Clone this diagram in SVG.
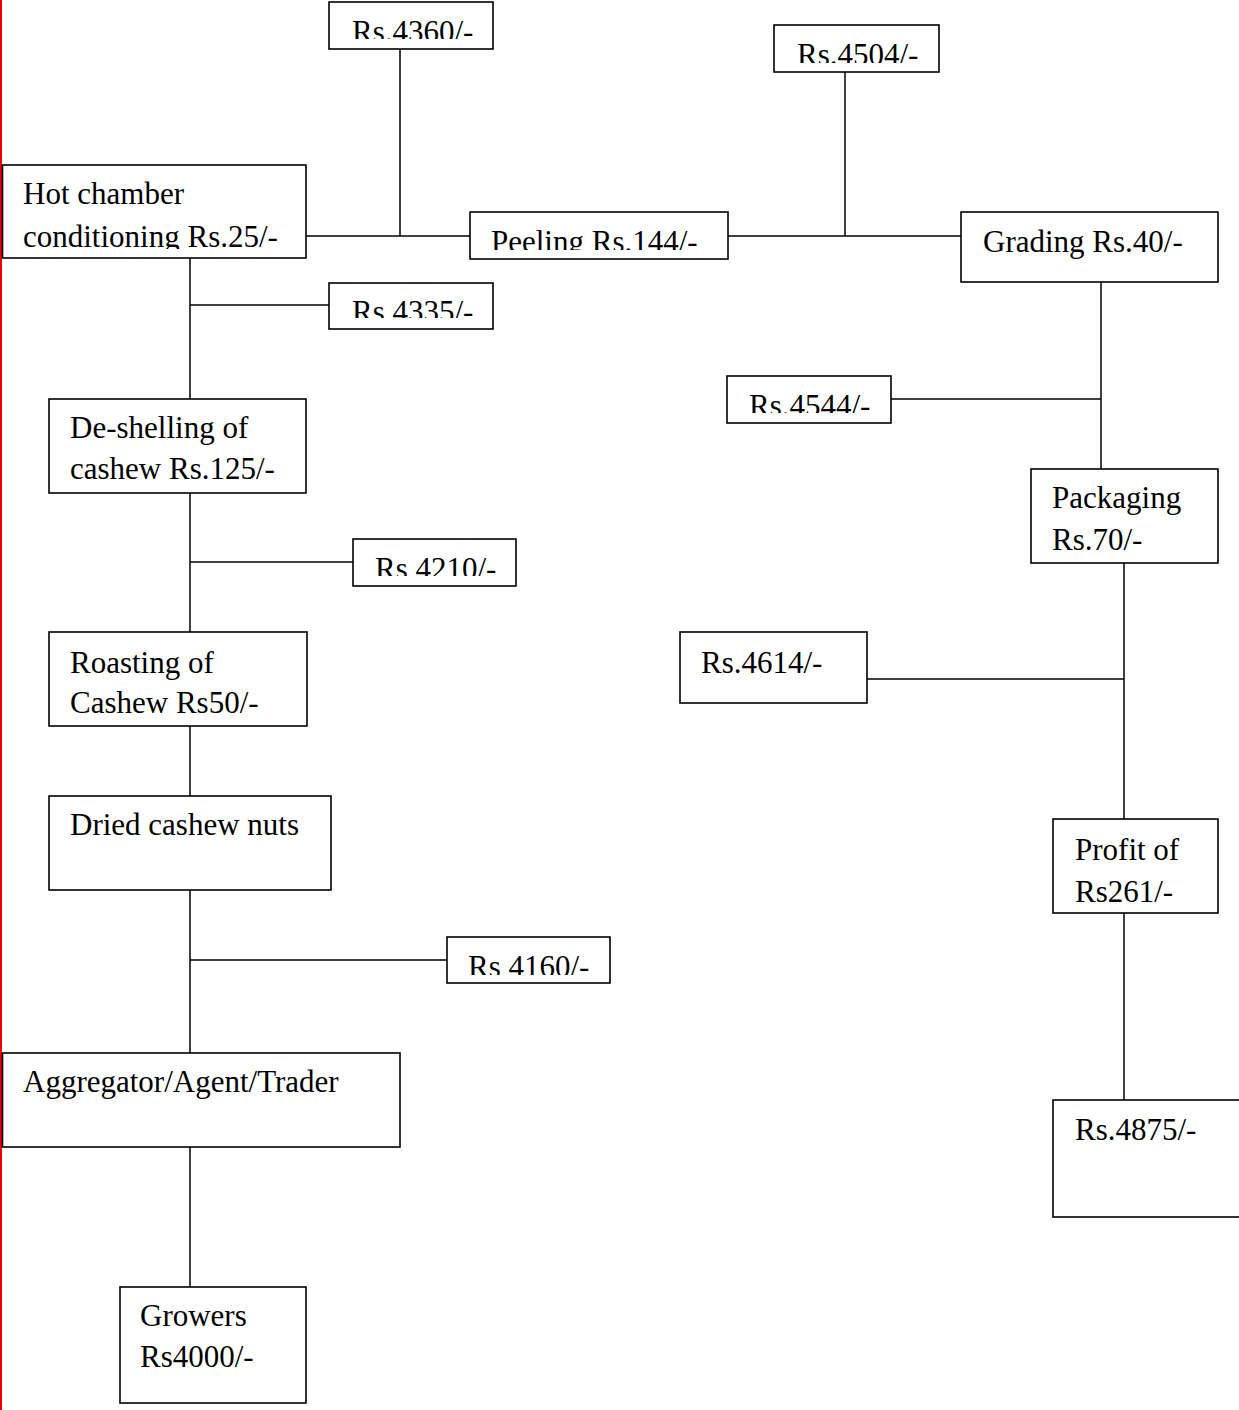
<svg xmlns="http://www.w3.org/2000/svg" width="1239" height="1410" viewBox="0 0 1239 1410">
  <style>
    .box { fill: #ffffff; stroke: #000000; stroke-width: 1.6; }
    .link { fill: none; stroke: #000000; stroke-width: 1.5; }
    .label { font-family: "Liberation Serif", "Times New Roman", serif; font-size: 31px; fill: #000000; }
  </style>
  <defs>
    <!-- text in the short value boxes is cut off just above the bottom border -->
    <clipPath id="clip4360"><rect x="329" y="2" width="164" height="37"/></clipPath>
    <clipPath id="clip4504"><rect x="774" y="25" width="165" height="38"/></clipPath>
    <clipPath id="clipPeel"><rect x="470" y="212" width="258" height="38"/></clipPath>
    <clipPath id="clip4335"><rect x="329" y="283" width="164" height="35"/></clipPath>
    <clipPath id="clip4544"><rect x="727" y="376" width="164" height="37"/></clipPath>
    <clipPath id="clip4210"><rect x="353" y="539" width="163" height="37"/></clipPath>
    <clipPath id="clip4160"><rect x="447" y="937" width="163" height="38"/></clipPath>
    <clipPath id="clipHot"><rect x="2" y="165" width="304" height="84"/></clipPath>
  </defs>

  <rect width="1239" height="1410" fill="#ffffff"/>
  <!-- page margin rule -->
  <rect x="0" y="0" width="2" height="1410" fill="#e8000b"/>

  <g id="connectors">
    <path class="link" d="M306 236 H470 M400 49 V236"/>
    <path class="link" d="M728 236 H961 M845 72 V236"/>
    <path class="link" d="M1101 282 V469 M891 399 H1101"/>
    <path class="link" d="M1124 563 V819 M867 679 H1124"/>
    <path class="link" d="M1124 913 V1100"/>
    <path class="link" d="M190 258 V399 M190 305 H329"/>
    <path class="link" d="M190 493 V632 M190 562 H353"/>
    <path class="link" d="M190 726 V796"/>
    <path class="link" d="M190 890 V1053 M190 960 H447"/>
    <path class="link" d="M190 1147 V1287"/>
  </g>

  <g id="node-rs4360">
    <rect class="box" x="329" y="2" width="164" height="47"/>
    <text class="label" x="352" y="42" clip-path="url(#clip4360)">Rs.4360/-</text>
  </g>
  <g id="node-rs4504">
    <rect class="box" x="774" y="25" width="165" height="47"/>
    <text class="label" x="797" y="65" clip-path="url(#clip4504)">Rs.4504/-</text>
  </g>
  <g id="node-hot-chamber">
    <rect class="box" x="2.5" y="165" width="303.5" height="93"/>
    <g clip-path="url(#clipHot)">
      <text class="label" x="23" y="204">Hot chamber</text>
      <text class="label" x="23" y="247">conditioning Rs.25/-</text>
    </g>
  </g>
  <g id="node-peeling">
    <rect class="box" x="470" y="212" width="258" height="47"/>
    <text class="label" x="491" y="252" clip-path="url(#clipPeel)">Peeling Rs.144/-</text>
  </g>
  <g id="node-grading">
    <rect class="box" x="961" y="212" width="257" height="70"/>
    <text class="label" x="983" y="252">Grading Rs.40/-</text>
  </g>
  <g id="node-rs4335">
    <rect class="box" x="329" y="283" width="164" height="46"/>
    <text class="label" x="352" y="322" clip-path="url(#clip4335)">Rs.4335/-</text>
  </g>
  <g id="node-rs4544">
    <rect class="box" x="727" y="376" width="164" height="47"/>
    <text class="label" x="749" y="416" clip-path="url(#clip4544)">Rs.4544/-</text>
  </g>
  <g id="node-packaging">
    <rect class="box" x="1031" y="469" width="187" height="94"/>
    <text class="label" x="1052" y="508">Packaging</text>
    <text class="label" x="1052" y="550">Rs.70/-</text>
  </g>
  <g id="node-deshelling">
    <rect class="box" x="49" y="399" width="257" height="94"/>
    <text class="label" x="70" y="438">De-shelling of</text>
    <text class="label" x="70" y="479">cashew Rs.125/-</text>
  </g>
  <g id="node-rs4210">
    <rect class="box" x="353" y="539" width="163" height="47"/>
    <text class="label" x="375" y="579" clip-path="url(#clip4210)">Rs 4210/-</text>
  </g>
  <g id="node-rs4614">
    <rect class="box" x="680" y="632" width="187" height="71"/>
    <text class="label" x="701" y="673">Rs.4614/-</text>
  </g>
  <g id="node-roasting">
    <rect class="box" x="49" y="632" width="258" height="94"/>
    <text class="label" x="70" y="673">Roasting of</text>
    <text class="label" x="70" y="713">Cashew Rs50/-</text>
  </g>
  <g id="node-dried">
    <rect class="box" x="49" y="796" width="282" height="94"/>
    <text class="label" x="70" y="835">Dried cashew nuts</text>
  </g>
  <g id="node-profit">
    <rect class="box" x="1053" y="819" width="165" height="94"/>
    <text class="label" x="1075" y="860">Profit of</text>
    <text class="label" x="1075" y="902">Rs261/-</text>
  </g>
  <g id="node-rs4160">
    <rect class="box" x="447" y="937" width="163" height="46"/>
    <text class="label" x="468" y="977" clip-path="url(#clip4160)">Rs 4160/-</text>
  </g>
  <g id="node-aggregator">
    <rect class="box" x="2.5" y="1053" width="397.5" height="94"/>
    <text class="label" x="23" y="1092">Aggregator/Agent/Trader</text>
  </g>
  <g id="node-rs4875">
    <rect class="box" x="1053" y="1100" width="200" height="117"/>
    <text class="label" x="1075" y="1140">Rs.4875/-</text>
  </g>
  <g id="node-growers">
    <rect class="box" x="120" y="1287" width="186" height="116"/>
    <text class="label" x="140" y="1326">Growers</text>
    <text class="label" x="140" y="1367">Rs4000/-</text>
  </g>
</svg>
